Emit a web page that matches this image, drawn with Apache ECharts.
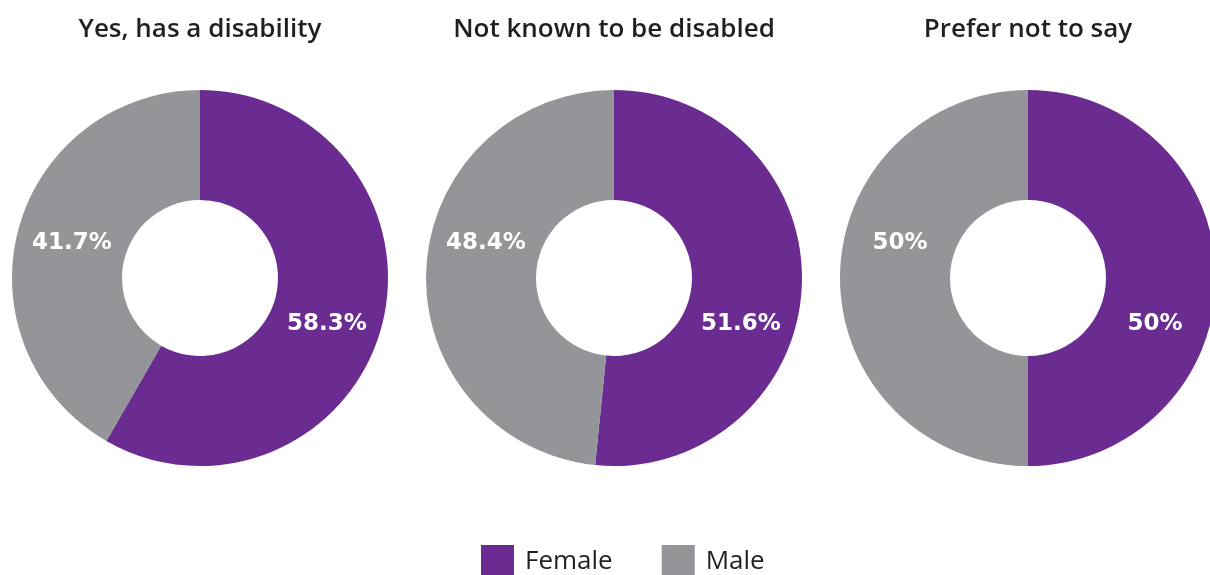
<!DOCTYPE html>
<html>
<head>
<meta charset="utf-8">
<script src="https://cdn.jsdelivr.net/npm/echarts@6/dist/echarts.min.js"></script>
<style>
  html, body { margin: 0; padding: 0; background: #fff; }
  #chart { width: 1210px; height: 575px; }
</style>
</head>
<body>
<div id="chart"></div>
<script>
const groups = ["Yes, has a disability", "Not known to be disabled", "Prefer not to say"];
const sexes = ["Female", "Male"];
const female = [58.3, 51.6, 50];
const male = [41.7, 48.4, 50];

const COLORS = { Female: "#6b2c91", Male: "#939598" };
const centersX = [200, 614, 1028];
const centerY = 278;
// labels sit at fixed spots in every donut, not at the slice mid-angle
const labelOffsets = { Female: [127, 46], Male: [-128, -35] };

const chart = echarts.init(document.getElementById("chart"));

const series = groups.map((g, i) => ({
  type: "pie",
  name: g,
  center: [centersX[i], centerY],
  radius: [78, 188],
  startAngle: 90,
  clockwise: true,
  silent: true,
  label: {
    position: "inside",
    color: "#fff",
    fontSize: 23,
    fontWeight: "bold",
    fontFamily: "DejaVu Sans",
    formatter: (p) => p.value + "%",
  },
  labelLine: { show: false },
  labelLayout: (params) => {
    const off = labelOffsets[sexes[params.dataIndex]];
    return { x: centersX[i] + off[0], y: centerY + off[1], align: "center", verticalAlign: "middle" };
  },
  data: [
    { name: "Female", value: female[i], itemStyle: { color: COLORS.Female } },
    { name: "Male", value: male[i], itemStyle: { color: COLORS.Male } },
  ],
}));

chart.setOption({
  animation: false,
  title: groups.map((g, i) => ({
    text: g,
    left: centersX[i],
    top: 17,
    padding: 0,
    textAlign: "center",
    textStyle: {
      fontFamily: "Open Sans",
      fontSize: 26,
      fontWeight: 600,
      color: "#231f20",
    },
  })),
  legend: {
    data: sexes,
    bottom: -8,
    left: 476,
    itemWidth: 33,
    itemHeight: 33,
    itemGap: 49,
    icon: "rect",
    textStyle: {
      fontFamily: "Open Sans",
      fontSize: 26,
      color: "#231f20",
      padding: [0, 0, 0, 6],
    },
  },
  series: series,
});
</script>
</body>
</html>
